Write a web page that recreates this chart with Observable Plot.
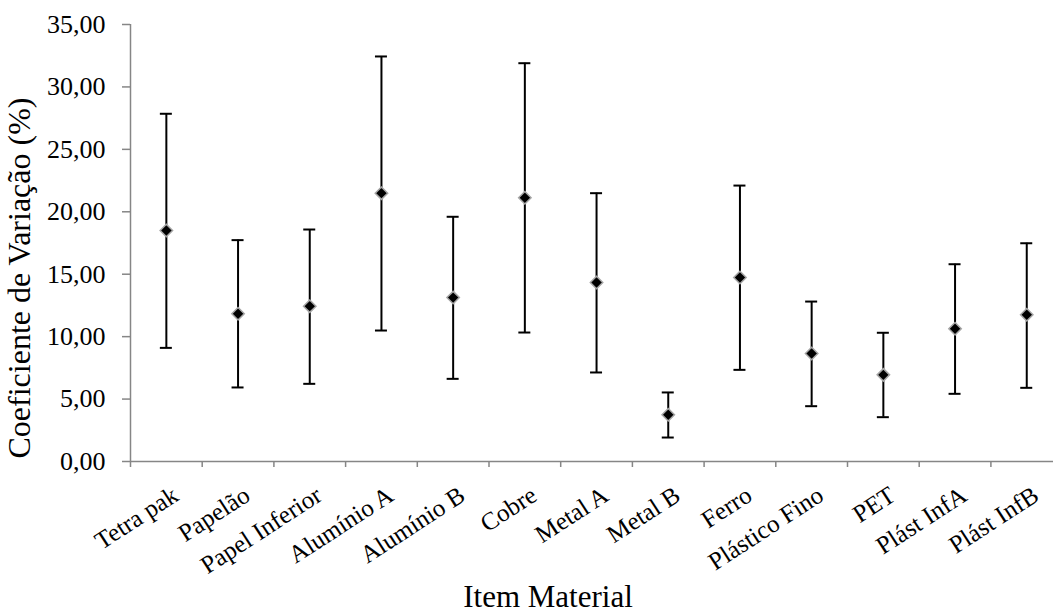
<!DOCTYPE html>
<html>
<head>
<meta charset="utf-8">
<script src="https://cdn.jsdelivr.net/npm/d3@7"></script>
<script src="https://cdn.jsdelivr.net/npm/@observablehq/plot@0.6"></script>
<style>
  html, body { margin: 0; padding: 0; background: #fff; }
  #chart svg { display: block; }
  #chart svg text { font-family: 'Liberation Serif', 'Times New Roman', serif; }
</style>
</head>
<body>
<div id="chart"></div>
<script>
const categories = ["Tetra pak", "Papelão", "Papel Inferior", "Alumínio A", "Alumínio B", "Cobre", "Metal A", "Metal B", "Ferro", "Plástico Fino", "PET", "Plást InfA", "Plást InfB"];
const media = [18.50, 11.83, 12.44, 21.49, 13.13, 21.12, 14.34, 3.74, 14.74, 8.65, 6.94, 10.63, 11.75];
const superior = [27.85, 17.73, 18.58, 32.44, 19.60, 31.90, 21.49, 5.53, 22.10, 12.81, 10.31, 15.80, 17.48];
const inferior = [9.10, 5.93, 6.22, 10.49, 6.62, 10.33, 7.13, 1.92, 7.34, 4.43, 3.55, 5.42, 5.90];
const yTicks = [0, 5, 10, 15, 20, 25, 30, 35];
const yTitle = "Coeficiente de Variação (%)";
const xTitle = "Item Material";

const data = categories.map((c, i) => ({
  cat: c, pos: i + 0.5, boundary: i, media: media[i], sup: superior[i], inf: inferior[i]
}));

const axisGray = "#868686";
const font = "'Liberation Serif', 'Times New Roman', serif";

const chart = Plot.plot({
  width: 1053,
  height: 612,
  marginLeft: 130,
  marginTop: 24,
  marginBottom: 151,
  marginRight: 0,
  style: { fontFamily: font, background: "#fff", color: "#000" },
  x: { domain: [0, categories.length], range: [130, 130 + 71.7 * categories.length], axis: null },
  y: { domain: [0, 35], axis: null },
  marks: [
    // y axis
    Plot.ruleX([0], { y1: 0, y2: 35, stroke: axisGray, strokeWidth: 1.5 }),
    Plot.axisY({ ticks: yTicks, tickSize: 8, tickPadding: 17, stroke: axisGray, strokeWidth: 1.5,
      tickFormat: d => d.toFixed(2).replace(".", ","), fontSize: 26, fontFamily: font, fill: "#000", label: null }),
    // x axis
    Plot.ruleY([0], { stroke: axisGray, strokeWidth: 1.5 }),
    Plot.axisX({ ticks: data.map(d => d.boundary), tickSize: 6, stroke: axisGray, strokeWidth: 1.5,
      tickFormat: () => "", label: null }),
    Plot.text(data, { x: "pos", y: 0, text: "cat", textAnchor: "end", lineAnchor: "top",
      rotate: -33, dx: 4, dy: 23, fontSize: 25, fontFamily: font, fill: "#000" }),
    // error bars
    Plot.ruleX(data, { x: "pos", y1: "inf", y2: "sup", stroke: "#000", strokeWidth: 2 }),
    Plot.ruleY(data, { y: "sup", x1: "pos", x2: "pos", insetLeft: -6, insetRight: -6, stroke: "#000", strokeWidth: 2 }),
    Plot.ruleY(data, { y: "inf", x1: "pos", x2: "pos", insetLeft: -6, insetRight: -6, stroke: "#000", strokeWidth: 2 }),
    Plot.dot(data, { x: "pos", y: "media", symbol: "diamond2", r: 5.6, fill: "#000", stroke: "#a6a6a6", strokeWidth: 1.5 }),
    // titles
    Plot.text([yTitle], { frameAnchor: "left", textAnchor: "middle", lineAnchor: "middle", rotate: -90,
      dx: -111, dy: 35, fontSize: 32, fontFamily: font, fill: "#000" }),
    Plot.text([xTitle], { frameAnchor: "bottom", textAnchor: "middle", lineAnchor: "bottom",
      dx: -44, dy: 145, fontSize: 31, fontFamily: font, fill: "#000" })
  ]
});
document.getElementById("chart").appendChild(chart);
</script>
</body>
</html>
